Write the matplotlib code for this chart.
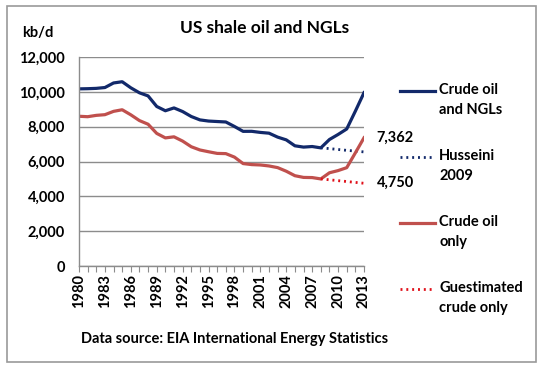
import matplotlib.pyplot as plt
from matplotlib.patches import Rectangle
from matplotlib.lines import Line2D

# data (kb/d)
years = list(range(1980, 2014))
crude_ngl = [10170, 10180, 10199, 10247, 10509, 10580, 10231, 9944, 9765, 9159,
             8914, 9076, 8868, 8583, 8389, 8322, 8295, 8269, 8011, 7731,
             7733, 7670, 7626, 7400, 7241, 6901, 6827, 6860, 6783, 7263,
             7552, 7868, 8892, 9950]
crude_only = [8597, 8572, 8649, 8688, 8879, 8971, 8680, 8349, 8140, 7613,
              7355, 7417, 7171, 6847, 6662, 6560, 6465, 6452, 6252, 5881,
              5822, 5801, 5744, 5649, 5441, 5184, 5086, 5077, 5000, 5353,
              5478, 5646, 6497, 7362]
husseini_years = [2008, 2009, 2010, 2011, 2012, 2013]
husseini = [6783, 6740, 6690, 6640, 6600, 6550]
guess_years = [2008, 2009, 2010, 2011, 2012, 2013]
guess_crude = [5000, 4950, 4900, 4850, 4800, 4750]
tick_years = list(range(1980, 2014, 3))

navy = '#12296A'
red = '#C0504D'
bright_red = '#E0101A'
grey = '#8C8C8C'
dots = (0, (0.7, 1.4))

plt.rcParams['font.family'] = ['Lato', 'DejaVu Sans']
plt.rcParams['font.weight'] = 'bold'

fig = plt.figure(figsize=(5.43, 3.69), dpi=100)
fig.patches.append(Rectangle((7 / 543, 7 / 369), 529 / 543, 356 / 369, transform=fig.transFigure,
                             fill=False, edgecolor='#9A9A9A', linewidth=1.2))

ax = fig.add_axes([79 / 543, 1 - 266 / 369, 285 / 543, 209 / 369])
ax.plot(years, crude_ngl, color=navy, lw=2.3, solid_joinstyle='round')
ax.plot(husseini_years, husseini, color=navy, lw=2.0, linestyle=dots)
ax.plot(years, crude_only, color=red, lw=2.3, solid_joinstyle='round')
ax.plot(guess_years, guess_crude, color=bright_red, lw=2.0, linestyle=dots)

ax.set_xlim(1980, 2013)
ax.set_ylim(0, 12000)
ax.set_yticks(range(0, 12001, 2000))
ax.set_yticklabels([f'{v:,}' for v in range(0, 12001, 2000)], fontsize=10.5, fontweight='bold')
ax.set_xticks(years)
ax.set_xticklabels([str(y) if y in tick_years else '' for y in years], rotation=90,
                   fontsize=10.5, fontweight='bold')
ax.tick_params(axis='x', direction='out', length=4, color=grey, pad=2)
ax.tick_params(axis='y', length=0, pad=10)
ax.grid(axis='y', color=grey, lw=1.0)
ax.set_axisbelow(True)
for s in ['top', 'right']:
    ax.spines[s].set_visible(False)
for s in ['left', 'bottom']:
    ax.spines[s].set_color(grey)
    ax.spines[s].set_linewidth(1.0)

# end labels
ax.annotate('7,362', xy=(2013, crude_only[-1]), xytext=(9, 0), textcoords='offset points',
            fontsize=10.5, fontweight='bold', va='center')
ax.annotate('4,750', xy=(2013, guess_crude[-1]), xytext=(9, 0), textcoords='offset points',
            fontsize=10.5, fontweight='bold', va='center')

fig.text(265 / 543, 1 - 28 / 369, 'US shale oil and NGLs', ha='center', va='center', fontsize=12.5,
         fontweight='bold')
fig.text(22 / 543, 1 - 33 / 369, 'kb/d', ha='left', va='center', fontsize=10.5, fontweight='bold')
fig.text(235 / 543, 1 - 339 / 369, 'Data source: EIA International Energy Statistics', ha='center',
         va='center', fontsize=10.5, fontweight='bold')

# legend
legend_items = [
    ('Crude oil\nand NGLs', navy, '-', 100),
    ('Husseini\n2009', navy, dots, 166),
    ('Crude oil\nonly', red, '-', 232),
    ('Guestimated\ncrude only', bright_red, dots, 298),
]
for label, col, ls, yc in legend_items:
    yl = 1 - (yc - 9) / 369
    fig.add_artist(Line2D([400 / 543, 435 / 543], [yl, yl], color=col, lw=2.3 if ls == '-' else 2.0,
                          linestyle=ls, transform=fig.transFigure))
    fig.text(439 / 543, 1 - yc / 369, label, ha='left', va='center', fontsize=10.5,
             fontweight='bold', linespacing=1.5)

fig.savefig('out.png', dpi=100)
